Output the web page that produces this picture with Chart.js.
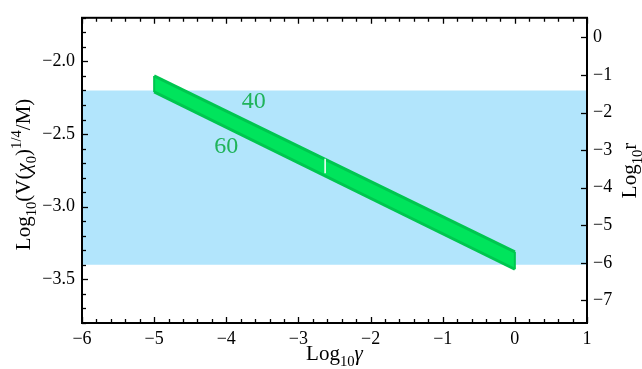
<!DOCTYPE html>
<html>
<head>
<meta charset="utf-8">
<script src="https://cdn.jsdelivr.net/npm/chart.js@4.4.1/dist/chart.umd.min.js"></script>
<style>
  html, body { margin: 0; padding: 0; background: #fff; }
  #wrap { width: 642px; height: 369px; }
</style>
</head>
<body>
<div id="wrap"><canvas id="c" width="642" height="369"></canvas></div>
<script>
// ---- data ----
const logGamma      = [-5, 0];          // x extent of the green band
const edgeN40       = [-2.10, -3.31];   // upper edge (N = 40)
const edgeN60       = [-2.21, -3.43];   // lower edge (N = 60)
const blueX         = [-6, 1];
const blueTop       = [-2.2, -2.2];
const blueBottom    = [-3.4, -3.4];
const markX         = [-2.63, -2.63];
const markY         = [-2.67, -2.77];
const labelTexts    = ['40', '60'];
const labelX        = [-3.62, -4.0];
const labelY        = [-2.28, -2.585];
const xTicks        = [-6, -5, -4, -3, -2, -1, 0, 1];
const yTicks        = [-2.0, -2.5, -3.0, -3.5];
const rTicks        = [0, -1, -2, -3, -4, -5, -6, -7];

const SERIF = '"Liberation Serif", "Times New Roman", serif';
const GREEN_FILL = '#00e45c';
const GREEN_EDGE = '#00c64f';
const BLUE = '#b2e5fc';
const LABEL_GREEN = '#1fb35a';

const pts = (xs, ys) => xs.map((x, i) => ({x: x, y: ys[i]}));
const fmt = (v, d) => (v < 0 ? '\u2212' : '') + Math.abs(v).toFixed(d);

function drawRich(ctx, parts, x, y, rot, base) {
  const fontFor = p => {
    const small = p.k === 'sub' || p.k === 'sup';
    const sz = small ? base * 0.7 : base;
    return (p.i ? 'italic ' : '') + sz + 'px ' + SERIF;
  };
  let total = 0;
  parts.forEach(p => { ctx.font = fontFor(p); p.w = ctx.measureText(p.t).width; total += p.w; });
  ctx.save();
  ctx.translate(x, y);
  ctx.rotate(rot);
  ctx.fillStyle = '#000';
  ctx.textBaseline = 'alphabetic';
  ctx.textAlign = 'left';
  let cx = -total / 2;
  parts.forEach(p => {
    ctx.font = fontFor(p);
    const dy = p.k === 'sub' ? base * 0.28 : (p.k === 'sup' ? -base * 0.42 : 0);
    ctx.fillText(p.t, cx, dy);
    cx += p.w;
  });
  ctx.restore();
}

const framePlugin = {
  id: 'frame',
  afterDatasetsDraw(chart) {
    const ctx = chart.ctx;
    const a = chart.chartArea;
    const xs = chart.scales.x, ys = chart.scales.y, rs = chart.scales.y2;
    ctx.save();
    ctx.strokeStyle = '#000';
    ctx.lineWidth = 1.3;
    // x ticks (bottom and top), minor every 0.2
    for (let i = -30; i <= 5; i++) {
      const v = i / 5;
      const px = Math.round(xs.getPixelForValue(v)) + 0.5;
      const major = (i % 5 === 0);
      const L = major ? 6 : 4;
      ctx.beginPath();
      ctx.moveTo(px, a.bottom); ctx.lineTo(px, a.bottom - L);
      ctx.moveTo(px, a.top); ctx.lineTo(px, a.top + L);
      ctx.stroke();
    }
    // left ticks, minor every 0.1
    for (let i = -38; i <= -17; i++) {
      const v = i / 10;
      const py = Math.round(ys.getPixelForValue(v)) + 0.5;
      const major = (i % 5 === 0);
      const L = major ? 6 : 4;
      ctx.beginPath();
      ctx.moveTo(a.left, py); ctx.lineTo(a.left + L, py);
      ctx.stroke();
    }
    // right ticks
    rTicks.forEach(v => {
      const py = Math.round(rs.getPixelForValue(v)) + 0.5;
      ctx.beginPath();
      ctx.moveTo(a.right, py); ctx.lineTo(a.right - 6, py);
      ctx.stroke();
    });
    // frame
    ctx.lineWidth = 2;
    ctx.strokeRect(a.left, a.top, a.right - a.left, a.bottom - a.top);
    // in-plot labels
    ctx.fillStyle = LABEL_GREEN;
    ctx.font = '24px ' + SERIF;
    ctx.textAlign = 'center';
    ctx.textBaseline = 'middle';
    labelTexts.forEach((t, i) => {
      ctx.fillText(t, xs.getPixelForValue(labelX[i]), ys.getPixelForValue(labelY[i]));
    });
    // axis titles
    const midY = (a.top + a.bottom) / 2;
    drawRich(ctx, [{t: 'Log'}, {t: '10', k: 'sub'}, {t: 'γ', i: true}],
             (a.left + a.right) / 2, 360, 0, 21);
    drawRich(ctx, [{t: 'Log'}, {t: '10', k: 'sub'}, {t: '(V('}, {t: 'χ', i: true},
                   {t: '0', k: 'sub'}, {t: ')'}, {t: '1/4', k: 'sup'}, {t: '/M)'}],
             30, midY + 4, -Math.PI / 2, 21);
    drawRich(ctx, [{t: 'Log'}, {t: '10', k: 'sub'}, {t: 'r'}],
             636, midY, -Math.PI / 2, 21);
    ctx.restore();
  }
};

const tickFont = {family: SERIF, size: 18};
const noGrid = { display: false, drawTicks: false, tickLength: 0 };

new Chart(document.getElementById('c'), {
  type: 'line',
  data: {
    datasets: [
      { data: pts(blueX, blueTop), borderWidth: 0, pointRadius: 0, fill: false, order: 5, borderColor: 'rgba(0,0,0,0)' },
      { data: pts(blueX, blueBottom), borderWidth: 0, pointRadius: 0, fill: '-1', backgroundColor: BLUE, order: 4, borderColor: 'rgba(0,0,0,0)' },
      { data: pts(logGamma, edgeN40), borderWidth: 3, borderColor: GREEN_EDGE, pointRadius: 0, fill: false, order: 2 },
      { data: pts(logGamma, edgeN60), borderWidth: 3, borderColor: GREEN_EDGE, pointRadius: 0, fill: '-1', backgroundColor: GREEN_FILL, order: 3 },
      { data: [{x: logGamma[0], y: edgeN40[0]}, {x: logGamma[0], y: edgeN60[0]}], borderWidth: 2, borderColor: GREEN_EDGE, pointRadius: 0, fill: false, order: 2 },
      { data: [{x: logGamma[1], y: edgeN40[1]}, {x: logGamma[1], y: edgeN60[1]}], borderWidth: 2, borderColor: GREEN_EDGE, pointRadius: 0, fill: false, order: 2 },
      { data: pts(markX, markY), borderWidth: 1.5, borderColor: '#ffffff', pointRadius: 0, fill: false, order: 1 }
    ]
  },
  options: {
    responsive: false,
    devicePixelRatio: 1,
    animation: false,
    events: [],
    layout: { padding: { top: 12, left: 0, right: 0, bottom: 0 } },
    plugins: { legend: { display: false }, tooltip: { enabled: false } },
    scales: {
      x: {
        type: 'linear', position: 'bottom', min: -6, max: 1,
        grid: noGrid, border: { display: false },
        ticks: { font: tickFont, color: '#000', padding: 5, maxRotation: 0, autoSkip: false,
                 callback: v => fmt(v, 0) },
        afterBuildTicks: s => { s.ticks = xTicks.map(v => ({value: v})); },
        afterFit: s => { s.height = 46; }
      },
      y: {
        type: 'linear', position: 'left', min: -3.8, max: -1.7,
        grid: noGrid, border: { display: false },
        ticks: { font: tickFont, color: '#000', padding: 7, autoSkip: false,
                 callback: v => fmt(v, 1) },
        afterBuildTicks: s => { s.ticks = yTicks.map(v => ({value: v})); },
        afterFit: s => { s.width = 82; }
      },
      y2: {
        type: 'linear', position: 'right', min: -7.6, max: 0.52,
        grid: noGrid, border: { display: false },
        ticks: { font: tickFont, color: '#000', padding: 6, autoSkip: false,
                 callback: v => fmt(v, 0) },
        afterBuildTicks: s => { s.ticks = rTicks.map(v => ({value: v})); },
        afterFit: s => { s.width = 55; }
      }
    }
  },
  plugins: [framePlugin]
});
</script>
</body>
</html>
